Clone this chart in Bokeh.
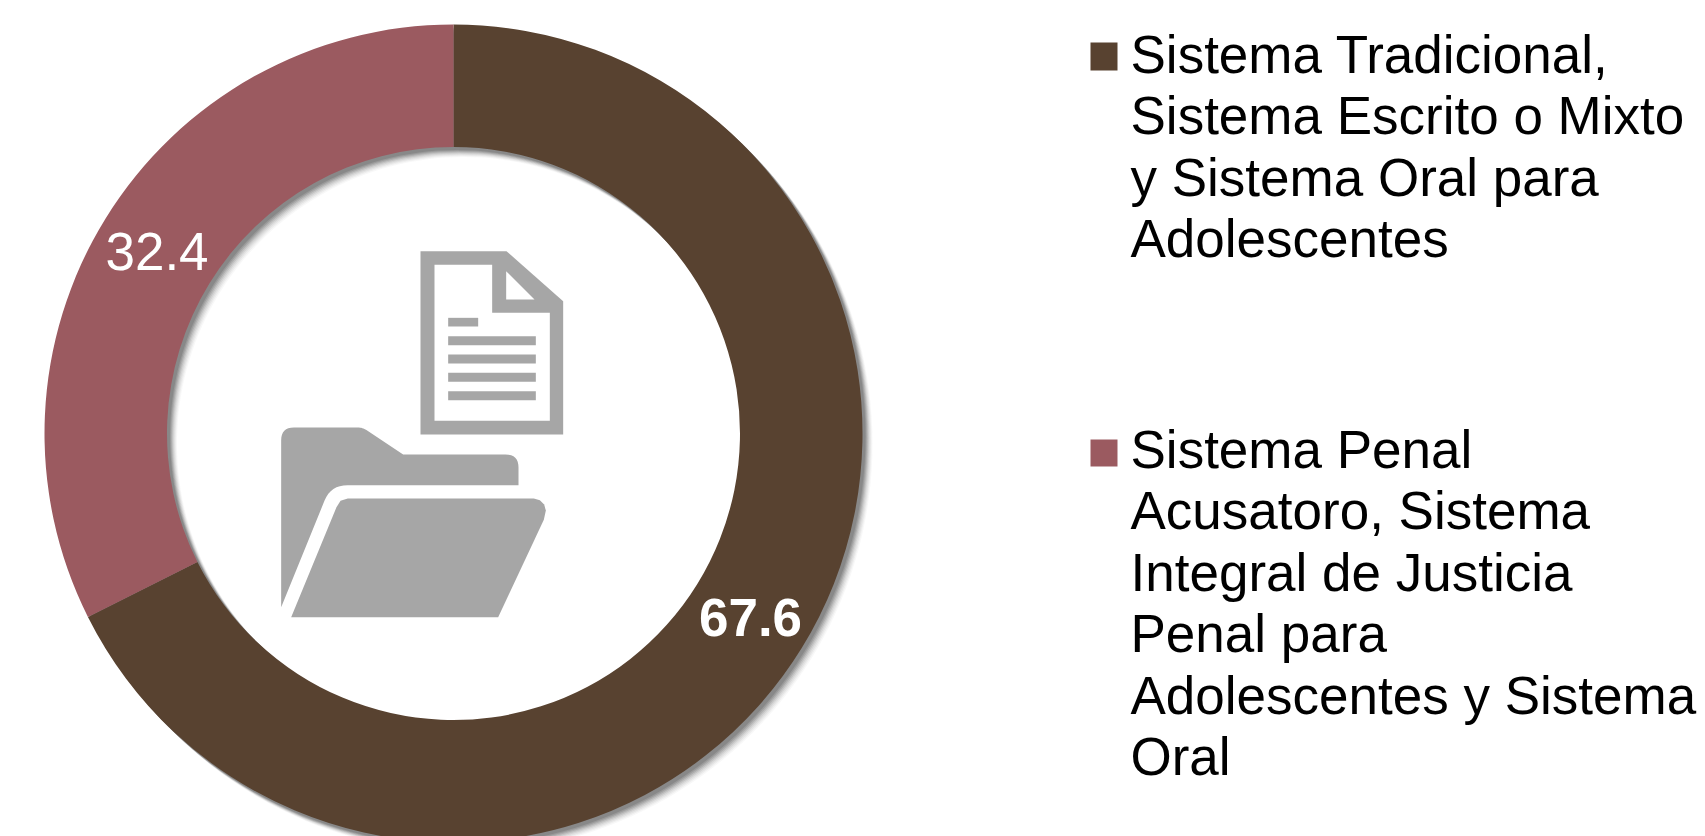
from math import pi
from bokeh.plotting import figure
from bokeh.models import Range1d
from bokeh.core.properties import value
from bokeh.embed import file_html
from bokeh.resources import INLINE

# ---- data ----
categories = ["Sistema Tradicional, Sistema Escrito o Mixto y Sistema Oral para Adolescentes",
              "Sistema Penal Acusatoro, Sistema Integral de Justicia Penal para Adolescentes y Sistema Oral"]
values = [67.6, 32.4]
value_labels = ["67.6", "32.4"]
legend_lines_1 = ["Sistema Tradicional,", "Sistema Escrito o Mixto", "y Sistema Oral para", "Adolescentes"]
legend_lines_2 = ["Sistema Penal", "Acusatoro, Sistema", "Integral de Justicia", "Penal para", "Adolescentes y Sistema", "Oral"]
colors = ["#584230", "#9B5A60"]

W, H = 1705, 836
FONT = value("Liberation Sans")
TEXT_DY = 21   # baseline correction for the renderer
def Y(py):
    return H - py

p = figure(width=W, height=H, output_backend="svg", toolbar_location=None,
           x_range=Range1d(0, W), y_range=Range1d(0, H),
           min_border=0, outline_line_color=None, background_fill_color="white")
p.axis.visible = False
p.grid.visible = False

# ---- donut ----
CX, CY, RO, RI = 453, 433, 409, 286.5
total = sum(values)
angles = []
a = pi / 2
for v in values:
    b = a - 2 * pi * v / total
    angles.append((a, b))
    a = b

# soft shadow, lower right
for off, alpha in [(10, .04), (9, .06), (8, .08), (7, .1), (6, .14), (5, .18), (4, .22), (3, .25)]:
    p.annular_wedge(x=CX + off, y=Y(CY + off), inner_radius=RI, outer_radius=RO,
                    start_angle=pi / 2, end_angle=pi / 2 - 2 * pi + 1e-4, direction="clock",
                    fill_color="#555555", fill_alpha=alpha, line_color=None)

for (s, e), c in zip(angles, colors):
    p.annular_wedge(x=CX, y=Y(CY), inner_radius=RI, outer_radius=RO, start_angle=s, end_angle=e,
                    direction="clock", fill_color=c, line_color=None)

# ---- value labels ----
p.text(x=[750], y=[Y(638 - TEXT_DY)], text=[value_labels[0]], text_color="white", text_font=FONT,
       text_font_size="53px", text_font_style="bold", text_align="center", text_baseline="alphabetic")
p.text(x=[156.5], y=[Y(272 - TEXT_DY)], text=[value_labels[1]], text_color="white", text_font=FONT,
       text_font_size="53px", text_align="center", text_baseline="alphabetic")

# ---- icon (page pixels from a crop: x = 260 + u/3, y = 230 + v/3) ----
GREY = "#A6A6A6"
def pts(seq):
    return [260 + u / 3 for u, v in seq], [Y(230 + v / 3) for u, v in seq]

def rounded(seq, n=8):
    """seq: (u, v, radius) -> polygon with quadratic rounded corners"""
    out = []
    m = len(seq)
    for i, (u, v, r) in enumerate(seq):
        if not r:
            out.append((u, v))
            continue
        pu, pv, _ = seq[i - 1]
        nu, nv, _ = seq[(i + 1) % m]
        def toward(au, av):
            d = ((au - u) ** 2 + (av - v) ** 2) ** .5
            t = min(r / d, .5)
            return u + (au - u) * t, v + (av - v) * t
        s, e = toward(pu, pv), toward(nu, nv)
        for k in range(n + 1):
            t = k / n
            out.append(((1 - t) ** 2 * s[0] + 2 * t * (1 - t) * u + t * t * e[0],
                        (1 - t) ** 2 * s[1] + 2 * t * (1 - t) * v + t * t * e[1]))
    return out

def poly(seq, color):
    xs, ys = pts(seq)
    p.patch(xs, ys, fill_color=color, line_color=None)

poly([(480, 62), (738, 62), (908, 212), (908, 612), (480, 612)], GREY)
poly([(522, 103), (695, 103), (695, 247), (868, 247), (868, 571), (522, 571)], "white")
poly([(737, 122), (822, 207), (737, 207)], "white")
for v0, v1, u1 in [(262, 288, 653), (317, 344, 826), (372, 399, 826), (427, 454, 826), (482, 509, 826)]:
    poly([(563, v0), (u1, v0), (u1, v1), (563, v1)], GREY)

poly(rounded([(62, 591, 38), (306, 591, 14), (428, 672, 0), (774, 672, 39), (774, 764, 0),
              (211, 764, 50), (62, 1130, 0)]), GREY)
poly([(262 + 0, 804), (820, 804), (838, 809), (851, 822), (856, 840), (850, 868), (713, 1160), (92, 1160), (228, 830), (240, 811)], GREY)

# ---- legend ----
LX = 1130
for lines, base, (sq0, sq1), c in [(legend_lines_1, 74.5, (42, 70), colors[0]),
                                   (legend_lines_2, 469.5, (439, 466), colors[1])]:
    p.quad(left=[1090], right=[1117], top=[Y(sq0)], bottom=[Y(sq1)], fill_color=c, line_color=None)
    p.text(x=[LX] * len(lines), y=[Y(base - TEXT_DY + 61.5 * i) for i in range(len(lines))], text=lines,
           text_color="black", text_font=FONT, text_font_size="53px",
           text_align="left", text_baseline="alphabetic")

open("out.html", "w").write(file_html(p, INLINE))
